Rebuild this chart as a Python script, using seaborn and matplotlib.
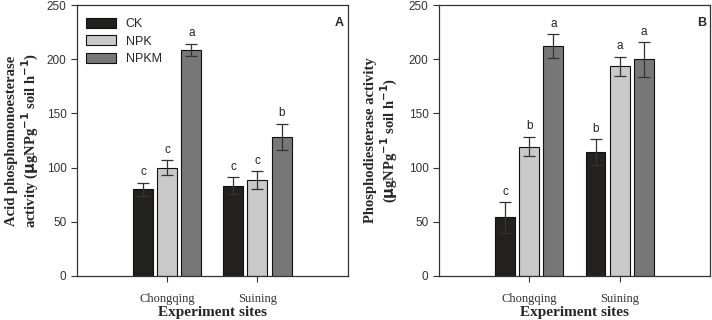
import pandas as pd
import numpy as np
import matplotlib
matplotlib.use('Agg')
import matplotlib.pyplot as plt
import seaborn as sns

sites = ['Chongqing', 'Suining']
treatments = ['CK', 'NPK', 'NPKM']

# panel A - acid phosphomonoesterase
acp_mean = {'CK': [80, 83.5], 'NPK': [100, 88.5], 'NPKM': [209, 128.5]}
acp_err = {'CK': [6, 8], 'NPK': [7, 8], 'NPKM': [5.5, 12]}
acp_letters = {'CK': ['c', 'c'], 'NPK': ['c', 'c'], 'NPKM': ['a', 'b']}

# panel B - phosphodiesterase
pde_mean = {'CK': [54, 114.5], 'NPK': [119.5, 193.5], 'NPKM': [212, 200]}
pde_err = {'CK': [14, 12], 'NPK': [9, 9], 'NPKM': [11, 16]}
pde_letters = {'CK': ['c', 'b'], 'NPK': ['b', 'a'], 'NPKM': ['a', 'a']}

colors = ['#231f20', '#c9c9c9', '#777777']

sns.set_style('ticks')
plt.rcParams['font.family'] = ['Liberation Sans', 'DejaVu Sans']
plt.rcParams['axes.edgecolor'] = '#333333'
plt.rcParams['xtick.color'] = '#333333'
plt.rcParams['ytick.color'] = '#333333'
serif = ['Liberation Serif', 'DejaVu Serif']


def make_df(means):
    rows = []
    for t in treatments:
        for i, s in enumerate(sites):
            rows.append({'site': s, 'trt': t, 'val': means[t][i]})
    return pd.DataFrame(rows)


def panel(ax, means, errs, letters, ylabel, tag, legend, pad):
    df = make_df(means)
    sns.barplot(data=df, x='site', y='val', hue='trt', hue_order=treatments,
                order=sites, palette=colors, width=0.8, gap=0.17,
                edgecolor='#111111', linewidth=0.8, errorbar=None,
                legend=legend, ax=ax, zorder=2)
    for cont, t in zip(ax.containers, treatments):
        for i, p in enumerate(cont.patches):
            x = p.get_x() + p.get_width() / 2
            h = p.get_height()
            e = errs[t][i]
            ax.errorbar(x, h, yerr=e, color='#333333', lw=0.9,
                        capsize=4, capthick=0.9, zorder=3)
            ax.text(x, h + e + 4, letters[t][i], ha='center', va='bottom',
                    fontsize=8.5, color='#222222')
    ax.set_xlim(-1, 2)
    ax.set_ylim(0, 250)
    ax.set_yticks([0, 50, 100, 150, 200, 250])
    ax.tick_params(axis='y', labelsize=8.5, length=4, width=0.8)
    ax.tick_params(axis='x', length=4, width=0.8, pad=8)
    for lab in ax.get_xticklabels():
        lab.set_family(serif)
        lab.set_fontsize(9)
    ax.set_xlabel('Experiment sites', family=serif, fontsize=11,
                  fontweight='bold', labelpad=1)
    ax.set_ylabel(ylabel, family=serif, fontsize=10.5, fontweight='bold',
                  labelpad=pad, linespacing=1.15)
    for sp in ax.spines.values():
        sp.set_visible(True)
        sp.set_linewidth(0.9)
    ax.text(0.985, 0.955, tag, transform=ax.transAxes, ha='right',
            va='top', fontsize=9, fontweight='bold')
    if legend:
        ax.legend(loc='upper left', frameon=False, fontsize=9,
                  handlelength=2.4, handleheight=0.85, borderaxespad=0.3,
                  labelspacing=0.4, bbox_to_anchor=(0.0, 0.985))


fig, axes = plt.subplots(1, 2, figsize=(7.12, 3.2), dpi=100)
plt.subplots_adjust(left=0.108, right=0.997, bottom=0.1375, top=0.984,
                    wspace=0.337)

panel(axes[0], acp_mean, acp_err, acp_letters,
      'Acid phosphomonoesterase\nactivity ($\\mathbf{\\mu}$gNPg$^{\\mathbf{-1}}$ soil h$^{\\mathbf{-1}}$)',
      'A', True, 4)
panel(axes[1], pde_mean, pde_err, pde_letters,
      'Phosphodiesterase activity\n($\\mathbf{\\mu}$gNPg$^{\\mathbf{-1}}$ soil h$^{\\mathbf{-1}}$)',
      'B', False, 6)

fig.savefig('out.png', dpi=100)
